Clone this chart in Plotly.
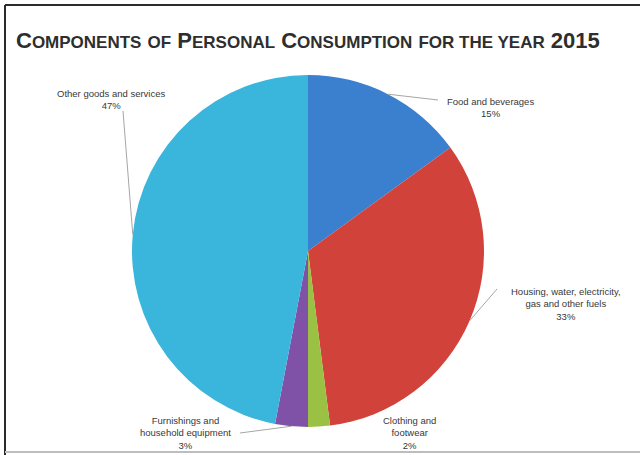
import math
import plotly.graph_objects as go

categories = ["Food and beverages", "Housing, water, electricity, gas and other fuels",
              "Clothing and footwear", "Furnishings and household equipment",
              "Other goods and services"]
values = [15, 33, 2, 3, 47]
label_texts = ["Food and beverages<br>15%",
               "Housing, water, electricity,<br>gas and other fuels<br>33%",
               "Clothing and<br>footwear<br>2%",
               "Furnishings and<br>household equipment<br>3%",
               "Other goods and services<br>47%"]
colors = ["#3b7fcf", "#d1433a", "#9ac143", "#7f52a8", "#3ab5dc"]

W, H = 640, 455
CX, CY, R = 308, 251, 176

def px(x, y):
    return x / W, 1 - y / H

# label centers (pixels) and leader-line start points (pixels)
label_pos = [(490, 107), (566, 304), (409, 433), (185, 433), (111, 99)]
leader_start = [(438, 100), (497, 289), None, (240, 433), (123, 111)]

fig = go.Figure(go.Pie(
    labels=categories, values=values, sort=False, direction="clockwise", rotation=0,
    marker=dict(colors=colors, line=dict(width=0)),
    textinfo="none", hoverinfo="label+percent", showlegend=False,
    domain=dict(x=[(CX - R) / W, (CX + R) / W], y=[1 - (CY + R) / H, 1 - (CY - R) / H]),
))

total = sum(values)
cum = 0
shapes = []
annotations = []
for i, v in enumerate(values):
    mid = (cum + v / 2) / total * 2 * math.pi
    cum += v
    ex, ey = CX + R * math.sin(mid), CY - R * math.cos(mid)
    if leader_start[i] is not None:
        sx, sy = leader_start[i]
        x0, y0 = px(sx, sy)
        x1, y1 = px(ex, ey)
        shapes.append(dict(type="line", xref="paper", yref="paper", x0=x0, y0=y0, x1=x1, y1=y1,
                           line=dict(color="#a6a6a6", width=1)))
    lx, ly = px(*label_pos[i])
    annotations.append(dict(text=label_texts[i], xref="paper", yref="paper", x=lx, y=ly,
                            xanchor="center", yanchor="middle", showarrow=False, align="center",
                            font=dict(family="Liberation Sans", size=9.5, color="#383838")))

big = 22
small = 17
def sc(first, rest):
    return f"{first}<span style='font-size:{small}px'>{rest}</span>"
title_html = (sc("C", "OMPONENTS") + " " + f"<span style='font-size:{small}px'>OF</span>" + " " +
              sc("P", "ERSONAL") + " " + sc("C", "ONSUMPTION") + " " +
              f"<span style='font-size:{small}px'>FOR THE YEAR</span>" + " 2015")
annotations.append(dict(text="<b>" + title_html + "</b>", xref="paper", yref="paper",
                        x=px(14, 0)[0], y=px(0, 40)[1], xanchor="left", yanchor="middle",
                        showarrow=False, font=dict(family="Liberation Sans", size=big, color="#2e2e2e")))

# frame lines
shapes.append(dict(type="line", xref="paper", yref="paper", x0=px(5, 5)[0], y0=px(5, 5)[1],
                   x1=1, y1=px(5, 5)[1], line=dict(color="#2b2b2b", width=2)))
shapes.append(dict(type="line", xref="paper", yref="paper", x0=px(5, 5)[0], y0=px(5, 5)[1],
                   x1=px(5, 5)[0], y1=0, line=dict(color="#2b2b2b", width=2)))
shapes.append(dict(type="line", xref="paper", yref="paper", x0=px(5, 452)[0], y0=px(5, 452)[1],
                   x1=1, y1=px(5, 452)[1], line=dict(color="#bdbdbd", width=2)))

fig.update_layout(width=W, height=H, autosize=False, margin=dict(l=0, r=0, t=0, b=0),
                  paper_bgcolor="white", plot_bgcolor="white",
                  shapes=shapes, annotations=annotations)
fig.write_html("out.html")
